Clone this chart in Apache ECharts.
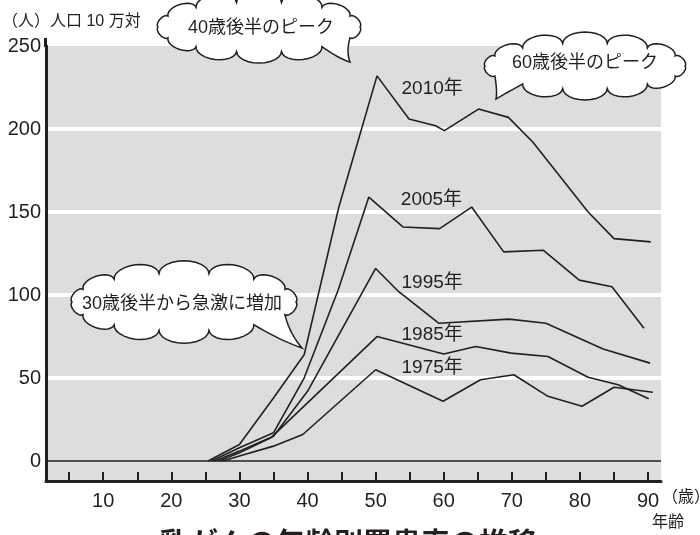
<!DOCTYPE html>
<html>
<head>
<meta charset="utf-8">
<script src="https://cdn.jsdelivr.net/npm/echarts@6/dist/echarts.min.js"></script>
<style>
  html, body { margin: 0; padding: 0; background: #fff; }
  #chart { width: 700px; height: 535px; }
</style>
</head>
<body>
<div id="chart"></div>
<script>
// 年齢（各年の折れ点）と罹患率（人口10万対）
const age1975 = [27.6, 30, 35, 39.3, 50, 59.9, 65.4, 70.3, 75.3, 80.3, 85, 90.7];
const val1975 = [0, 3, 9, 16, 55, 36, 49, 52, 39, 33, 44.5, 41.5];
const age1985 = [27, 30, 34.6, 50.2, 60, 64.7, 69.9, 75.3, 81.2, 85.6, 90.1];
const val1985 = [0, 5, 14, 75, 64.5, 69, 65, 63, 50.5, 46, 37.5];
const age1995 = [26.4, 30, 35, 40, 50, 53.4, 59.3, 69.6, 75, 83.4, 90.3];
const val1995 = [0, 6, 15, 42, 116, 102, 83, 85.5, 83, 67.5, 59];
const age2005 = [25.9, 30, 35, 39.5, 44.5, 49, 54, 59.4, 64.1, 68.8, 74.6, 79.9, 84.7, 89.4];
const val2005 = [0, 8, 17, 50, 103, 159, 141, 140, 153, 126, 127, 109, 105, 80];
const age2010 = [25.4, 30, 35, 39.5, 44.6, 50.2, 54.9, 58.8, 60.1, 65.1, 69.5, 73.1, 81.2, 85, 90.4];
const val2010 = [0, 10, 38, 64, 153, 232, 206, 202, 199, 212, 207, 192, 150, 134, 132];

const yearNames = ["1975年", "1985年", "1995年", "2005年", "2010年"];
const xTicks = [5, 10, 15, 20, 25, 30, 35, 40, 45, 50, 55, 60, 65, 70, 75, 80, 85, 90];
const xLabels = [10, 20, 30, 40, 50, 60, 70, 80, 90];
const yLabels = [0, 50, 100, 150, 200, 250];
const yGrid = [50, 100, 150, 200];

const FONT = "'Liberation Sans', 'Noto Sans CJK JP', sans-serif";
const INK = "#231f20";

const zip = (a, b) => a.map((x, i) => [x, b[i]]);
const seriesData = [
  zip(age1975, val1975),
  zip(age1985, val1985),
  zip(age1995, val1995),
  zip(age2005, val2005),
  zip(age2010, val2010)
];

// 年ラベルの位置（データ座標）
const labelAt = [[58.3, 56], [58.3, 76], [58.3, 107.5], [58.2, 157.5], [58.3, 224]];

// 2次ベジェを点列にする
function quad(out, p0, c, p1) {
  for (let t = 0.1; t <= 1.0001; t += 0.1) {
    const u = 1 - t;
    out.push([u * u * p0[0] + 2 * u * t * c[0] + t * t * p1[0], u * u * p0[1] + 2 * u * t * c[1] + t * t * p1[1]]);
  }
}

// 吹き出し雲の形（多角形の点列）
function cloudPoints(cx, cy, rx, ry, n, tailIdx, tip) {
  const pts = [];
  for (let i = 0; i < n; i++) {
    const a = (2 * Math.PI * i) / n;
    pts.push([cx + rx * Math.cos(a), cy + ry * Math.sin(a)]);
  }
  const out = [pts[0]];
  for (let i = 0; i < n; i++) {
    const q = pts[i];
    const p = pts[(i + 1) % n];
    if (i === tailIdx) {
      quad(out, q, [(q[0] + tip[0]) / 2 - 4, (q[1] + tip[1]) / 2 + 2], tip);
      quad(out, tip, [(p[0] + tip[0]) / 2 + 2, (p[1] + tip[1]) / 2 + 4], p);
      continue;
    }
    // 外側にふくらむ丸いこぶ
    const dx = p[0] - q[0], dy = p[1] - q[1];
    const len = Math.hypot(dx, dy);
    let nx = dy / len, ny = -dx / len;
    const mx = (q[0] + p[0]) / 2, my = (q[1] + p[1]) / 2;
    if ((mx - cx) * nx + (my - cy) * ny < 0) { nx = -nx; ny = -ny; }
    const h = 0.26 * len;
    for (let k = 1; k <= 12; k++) {
      const f = (Math.PI * k) / 12;
      out.push([
        mx - (dx / 2) * Math.cos(f) + nx * h * Math.sin(f),
        my - (dy / 2) * Math.cos(f) + ny * h * Math.sin(f)
      ]);
    }
  }
  return out;
}

const cloud = (pts) => ({
  type: "polygon",
  z: 100,
  shape: { points: pts },
  style: { fill: "#fff", stroke: INK, lineWidth: 1.5 }
});
const text = (t, left, top, size, extra) => ({
  type: "text",
  z: 101,
  left: left,
  top: top,
  style: Object.assign({ text: t, fontSize: size, fontFamily: FONT, fill: INK }, extra || {})
});

const chart = echarts.init(document.getElementById("chart"), null, { renderer: "canvas" });

const series = seriesData.map((d, i) => ({
  type: "line",
  name: yearNames[i],
  data: d,
  symbol: "none",
  silent: true,
  lineStyle: { color: INK, width: 1.6 },
  markPoint: {
    silent: true,
    symbolSize: 0,
    data: [{ name: yearNames[i], coord: labelAt[i] }],
    label: { show: true, formatter: "{b}", color: INK, fontSize: 19, fontFamily: FONT }
  }
}));
series[0].markLine = {
  silent: true,
  symbol: "none",
  label: { show: false },
  lineStyle: { color: INK, width: 1.5, type: "solid" },
  data: [{ yAxis: 0 }]
};

const option = {
  animation: false,
  backgroundColor: "#fff",
  grid: {
    left: 46, right: 39, top: 46, bottom: 54,
    show: true, backgroundColor: "#dcdddf", borderWidth: 0
  },
  xAxis: {
    type: "value",
    min: 1.6,
    max: 91.9,
    axisLine: { onZero: false, lineStyle: { color: INK, width: 3 } },
    axisTick: { inside: true, length: 9, customValues: xTicks, lineStyle: { color: INK, width: 2 } },
    axisLabel: { customValues: xLabels, color: INK, fontSize: 20, fontFamily: FONT, margin: 10 },
    splitLine: { show: false }
  },
  yAxis: {
    type: "value",
    min: -12,
    max: 250,
    axisLine: { show: true, onZero: false, lineStyle: { color: INK, width: 3 } },
    axisTick: { show: false, customValues: yGrid },
    axisLabel: { customValues: yLabels, color: INK, fontSize: 20, fontFamily: FONT, margin: 5 },
    splitLine: { show: true, lineStyle: { color: "#fff", width: 4 } }
  },
  series: series,
  graphic: [
    { type: "line", z: 50, shape: { x1: 45.5, y1: 38, x2: 45.5, y2: 47 }, style: { stroke: INK, lineWidth: 3 } },
    cloud(cloudPoints(259, 27, 101, 25, 14, 1, [350, 62])),
    cloud(cloudPoints(585, 66, 100, 23, 14, 5, [496, 99])),
    cloud(cloudPoints(184, 302, 112, 29, 14, 1, [302, 348])),
    text("40歳後半のピーク", 188, 19, 18),
    text("60歳後半のピーク", 512, 54, 18),
    text("30歳後半から急激に増加", 82, 295, 18),
    text("（人）人口 10 万対", 2, 14, 16),
    text("（歳）", 662, 490, 16),
    text("年齢", 652, 515, 16),
    text("乳がんの年齢別罹患率の推移", 160, 531, 29, { fontWeight: "bold" })
  ]
};

chart.setOption(option);
</script>
</body>
</html>
